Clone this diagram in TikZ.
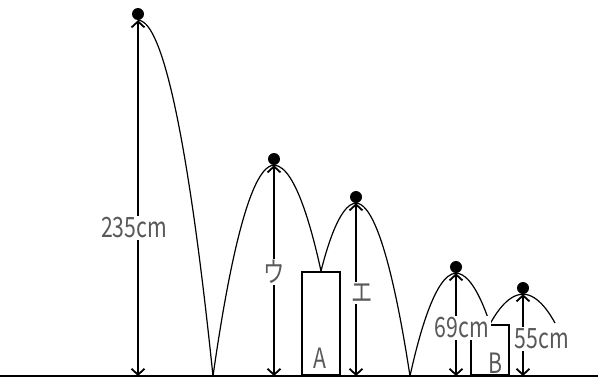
\documentclass[tikz,border=0pt]{standalone}
\usepackage{fontspec}
\newfontfamily\jpfont[FakeStretch=0.76]{Noto Sans CJK JP}
\usetikzlibrary{arrows.meta}
\tikzset{
ball/.style={circle,fill=black,inner sep=0pt,minimum size=12pt},
hgt/.style={line width=1.8pt,{Straight Barb[length=6pt,width=13pt]}-{Straight Barb[length=6pt,width=13pt]}},
bounce/.style={line width=1.2pt},
blk/.style={draw,line width=2pt,inner sep=0pt,anchor=south},
lbl/.style={fill=white,inner sep=1.5pt,text=black!65,font=\jpfont\fontsize{28}{28}\selectfont},
}

\begin{document}
\begin{tikzpicture}[x=1pt,y=-1pt]
\useasboundingbox (0,0) rectangle (600,378);
\begin{scope}
% balls
\node[ball] (b1) at (138,14) {};
\node[ball] (b2) at (274,159) {};
\node[ball] (b3) at (356,197) {};
\node[ball] (b4) at (456,267) {};
\node[ball] (b5) at (523,288) {};
% ground points
\coordinate (g1) at (138,376);
\coordinate (g2) at (274,376);
\coordinate (g3) at (356,376);
\coordinate (g4) at (456,376);
\coordinate (g5) at (523,376);
\coordinate (p1) at (213,376);
\coordinate (p3) at (410,376);
\coordinate (e5) at (555,323);
% blocks
\node[blk,minimum width=38pt,minimum height=103pt] (A) at (321,376) {};
\node[blk,minimum width=38pt,minimum height=50pt] (B) at (490,376) {};
% heights
\draw[hgt] (b1.south) -- (g1);
\draw[hgt] (b2.south) -- (g2);
\draw[hgt] (b3.south) -- (g3);
\draw[hgt] (b4.south) -- (g4);
\draw[hgt] (b5.south) -- (g5);
% bounces
\draw[bounce] (b1.south) parabola (p1);
\draw[bounce] (p1) parabola bend (b2.south) (A.north);
\draw[bounce] (A.north) parabola bend (b3.south) (p3);
\draw[bounce] (p3) parabola bend (b4.south) (B.north);
\draw[bounce] (B.north) parabola bend (b5.south) (e5);
% ground
\draw[line width=2.2pt] (0,376) -- (598,376);
% labels
\node[lbl] (t1) at (134,228) {235cm};
\node[lbl] (t2) at (274,272) {ウ};
\node[lbl] (t3) at (362,293) {エ};
\node[lbl] (t4) at (462,328) {69cm};
\node[lbl] (t5) at (542,339) {55cm};
\node[lbl,fill=none] (tA) at (320,358) {A};
\node[lbl,fill=none] (tB) at (495,363) {B};
\end{scope}
\end{tikzpicture}
\end{document}
